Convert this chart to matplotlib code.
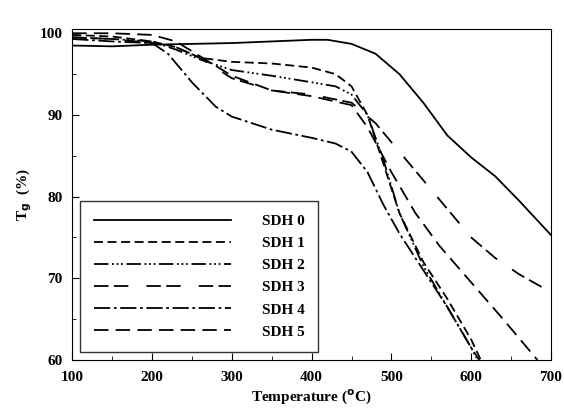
import matplotlib.pyplot as plt
import numpy as np

plt.rcParams['font.family'] = ['Liberation Serif', 'DejaVu Serif']

t0 = [100, 150, 200, 250, 300, 350, 400, 420, 450, 480, 510, 540, 570, 600, 630, 660, 700]
sdh0 = [98.5, 98.4, 98.6, 98.7, 98.8, 99.0, 99.2, 99.2, 98.7, 97.5, 95.0, 91.5, 87.5, 84.8, 82.5, 79.5, 75.3]

t1 = [100, 150, 200, 230, 260, 300, 350, 400, 430, 450, 470, 490, 510, 540, 570, 600, 612]
sdh1 = [99.8, 99.6, 99.0, 98.3, 97.0, 96.5, 96.3, 95.8, 95.0, 93.5, 90.0, 84.0, 78.0, 72.0, 67.5, 62.5, 60.0]

t2 = [100, 150, 200, 230, 260, 300, 350, 400, 430, 450, 470, 490, 510, 540, 570, 600, 608]
sdh2 = [99.5, 99.3, 99.0, 98.0, 96.8, 95.5, 94.8, 94.0, 93.5, 92.5, 90.0, 84.5, 78.0, 71.5, 66.5, 61.5, 60.0]

t3 = [100, 150, 200, 230, 260, 300, 350, 400, 450, 480, 510, 540, 570, 600, 630, 660, 700]
sdh3 = [99.5, 99.3, 98.8, 98.3, 97.0, 94.5, 93.0, 92.5, 91.5, 89.0, 85.5, 82.0, 78.5, 75.0, 72.5, 70.5, 68.3]

t4 = [100, 150, 200, 220, 250, 280, 300, 350, 400, 430, 450, 470, 490, 510, 540, 570, 600, 610]
sdh4 = [99.3, 99.0, 98.8, 97.5, 94.0, 91.0, 89.8, 88.2, 87.2, 86.5, 85.5, 83.0, 79.0, 75.5, 71.0, 66.5, 61.5, 60.0]

t5 = [100, 150, 200, 230, 260, 300, 350, 400, 450, 470, 500, 530, 560, 600, 640, 683]
sdh5 = [100.0, 100.0, 99.8, 99.0, 97.2, 94.8, 93.0, 92.3, 91.2, 88.5, 83.0, 78.0, 74.0, 69.5, 65.0, 60.0]

fig = plt.figure(figsize=(5.64, 4.11), dpi=100)
ax = fig.add_axes([0.128, 0.124, 0.849, 0.805])

ax.plot(t0, sdh0, 'k-', lw=1.3, label='SDH 0')
ax.plot(t1, sdh1, color='k', lw=1.3, dashes=(5, 2.5), label='SDH 1')
ax.plot(t2, sdh2, color='k', lw=1.3, dashes=(8, 2, 1, 1.5, 1, 1.5, 1, 2), label='SDH 2')
ax.plot(t3, sdh3, color='k', lw=1.3, dashes=(8, 3, 8, 10), label='SDH 3')
ax.plot(t4, sdh4, color='k', lw=1.3, dashes=(9, 2, 1.5, 2), label='SDH 4')
ax.plot(t5, sdh5, color='k', lw=1.3, dashes=(8, 4), label='SDH 5')

ax.set_xlim(100, 700)
ax.set_ylim(60, 100.5)
ax.set_xticks(np.arange(100, 701, 100))
ax.set_yticks([60, 70, 80, 90, 100])
ax.set_xticks(np.arange(150, 700, 100), minor=True)
ax.set_yticks([65, 75, 85, 95], minor=True)
ax.tick_params(which='both', direction='in', labelsize=11)
ax.tick_params(which='major', length=5)
ax.tick_params(which='minor', length=3)
ax.tick_params(axis='x', pad=8)
ax.tick_params(axis='y', pad=7)
for lab in ax.get_xticklabels() + ax.get_yticklabels():
    lab.set_fontweight('bold')
ax.set_xlabel('Temperature ($\\mathbf{^{o}}$C)', fontweight='bold', fontsize=11, labelpad=2)
ax.set_ylabel('T$_\\mathbf{g}$  (%)', fontweight='bold', fontsize=11)

leg = ax.legend(loc='lower left', bbox_to_anchor=(0.0, 0.0), handlelength=9.0,
                fancybox=False, edgecolor='k',
                prop={'weight': 'bold', 'size': 11}, labelspacing=0.55,
                handletextpad=2.0, borderpad=0.9, borderaxespad=0.5)
leg.get_frame().set_linewidth(1.0)

plt.savefig('out.png', dpi=100)
